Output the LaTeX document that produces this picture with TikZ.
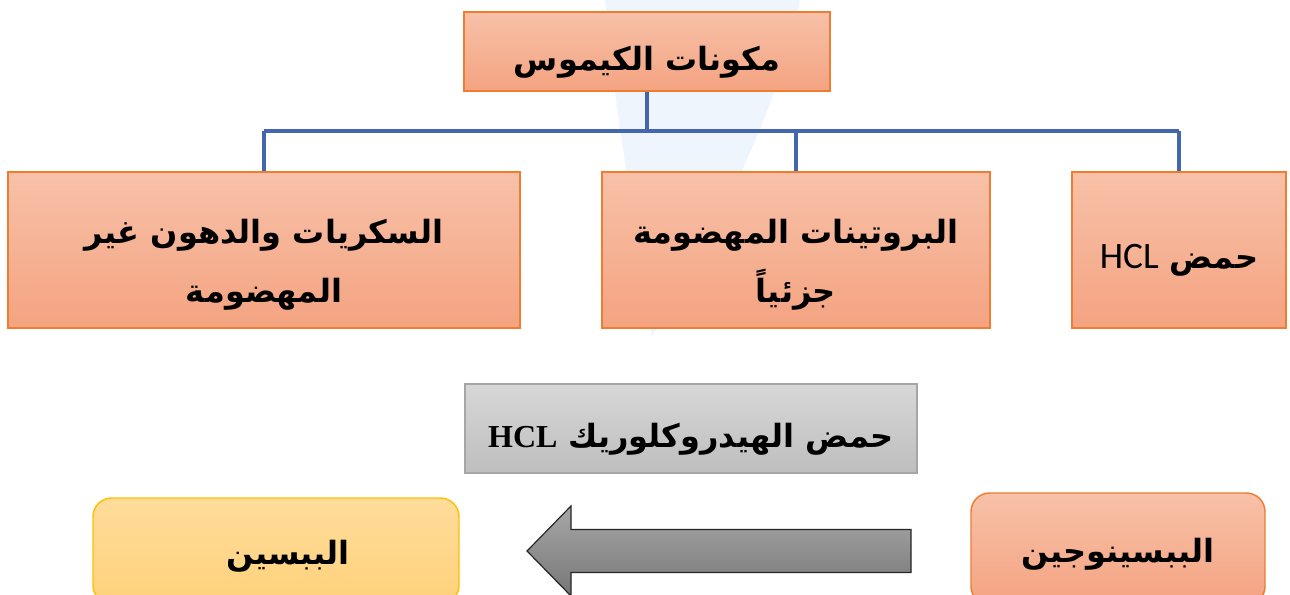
\documentclass[tikz,border=0pt]{standalone}
\usepackage{fontspec}
\setmainfont{DejaVu Sans}
\newfontfamily\arabicfont[Script=Arabic]{DejaVu Sans}
\newfontfamily\latinsans{Carlito}
\newfontfamily\latinserif{Liberation Serif}
\TeXXeTstate=1

\definecolor{salmonTop}{HTML}{F7C1A8}
\definecolor{salmonBot}{HTML}{F4A381}
\definecolor{salmonEdge}{HTML}{ED7D31}
\definecolor{busBlue}{HTML}{4366AD}
\definecolor{grayTop}{HTML}{D7D7D7}
\definecolor{grayBot}{HTML}{BEBEBE}
\definecolor{grayEdge}{HTML}{A6A6A6}
\definecolor{arrTop}{HTML}{A8A8A8}
\definecolor{arrBot}{HTML}{767676}
\definecolor{arrEdge}{HTML}{262626}
\definecolor{yelTop}{HTML}{FFDC9C}
\definecolor{yelBot}{HTML}{FFD27A}
\definecolor{yelEdge}{HTML}{FFC000}
\definecolor{haze}{HTML}{EFF5FD}

\newcommand\arfont{\arabicfont\bfseries\fontsize{24}{44}\selectfont}
% invisible struts that set the first line a little lower in its box
\newcommand\lowA{\rule{0pt}{34pt}}
\newcommand\lowB{\rule{0pt}{40pt}}
\newcommand\lowC{\rule{0pt}{26pt}}

\tikzset{
  pbox/.style={draw=salmonEdge, line width=1.1pt, top color=salmonTop, bottom color=salmonBot,
    inner sep=0pt, align=center, font=\arfont},
  graybox/.style={draw=grayEdge, line width=1.1pt, top color=grayTop, bottom color=grayBot,
    inner sep=0pt, align=center, font=\arfont},
  roundsalmon/.style={pbox, rounded corners=14pt},
  roundyellow/.style={draw=yelEdge, line width=1.1pt, top color=yelTop, bottom color=yelBot,
    rounded corners=14pt, inner sep=0pt, align=center, font=\arfont},
  bus/.style={draw=busBlue, line width=2.6pt},
  blockarrow/.style={draw=arrEdge, line width=0.9pt, top color=arrTop, bottom color=arrBot}
}

\begin{document}
\begin{tikzpicture}[x=0.75pt, y=-0.75pt]
\useasboundingbox (0,0) rectangle (1290,594);

% pale background mark
\fill[haze] (605,0) -- (800,0) .. controls (785,90) and (720,230) .. (652,336)
  .. controls (640,250) and (615,120) .. (605,0) -- cycle;

% top heading box
\node[pbox, minimum width=366*0.75pt, minimum height=79*0.75pt] (top) at (647,51.5)
  {\lowA\beginR مكونات الكيموس\endR};

% three components
\node[pbox, minimum width=512*0.75pt, minimum height=156*0.75pt] (sug) at (264,250)
  {\lowB\beginR السكريات والدهون غير\endR\\\beginR المهضومة\endR};
\node[pbox, minimum width=388*0.75pt, minimum height=156*0.75pt] (pro) at (796,250)
  {\lowB\beginR البروتينات المهضومة\endR\\\beginR جزئياً\endR};
\node[pbox, minimum width=214*0.75pt, minimum height=156*0.75pt] (acid) at (1179,250)
  {\lowA\beginR حمض {\latinsans\mdseries\fontsize{28}{34}\selectfont\beginL HCL\endL}\endR};

% tree connectors
\coordinate (bus) at (647,131);
\draw[bus] (top.south) -- (top.south |- bus);
\draw[bus] (sug.north |- bus) -- (acid.north |- bus);
\draw[bus] (sug.north |- bus) -- (sug.north);
\draw[bus] (pro.north |- bus) -- (pro.north);
\draw[bus] (acid.north |- bus) -- (acid.north);

% hydrochloric acid label
\node[graybox, minimum width=452*0.75pt, minimum height=89*0.75pt] (hcl) at (691,428.5)
  {\lowA\beginR حمض الهيدروكلوريك {\latinserif\bfseries\beginL HCL\endL}\endR};

% pepsinogen to pepsin
\node[roundsalmon, minimum width=294*0.75pt, minimum height=112*0.75pt] (pgen) at (1118,549)
  {\lowC\beginR الببسينوجين\endR};
\node[roundyellow, minimum width=366*0.75pt, minimum height=106*0.75pt] (psn) at (276,551)
  {\lowC\hspace*{18pt}\beginR الببسين\endR};

\coordinate (atail) at (911,551);
\coordinate (atip) at (527,551);
\draw[blockarrow] ([yshift=21.5*0.75pt]atail) -- ([yshift=-21.5*0.75pt]atail)
  -- ([xshift=44*0.75pt, yshift=-21.5*0.75pt]atip) -- ([xshift=44*0.75pt, yshift=-45*0.75pt]atip)
  -- (atip) -- ([xshift=44*0.75pt, yshift=45*0.75pt]atip)
  -- ([xshift=44*0.75pt, yshift=21.5*0.75pt]atip) -- cycle;
\end{tikzpicture}
\end{document}
